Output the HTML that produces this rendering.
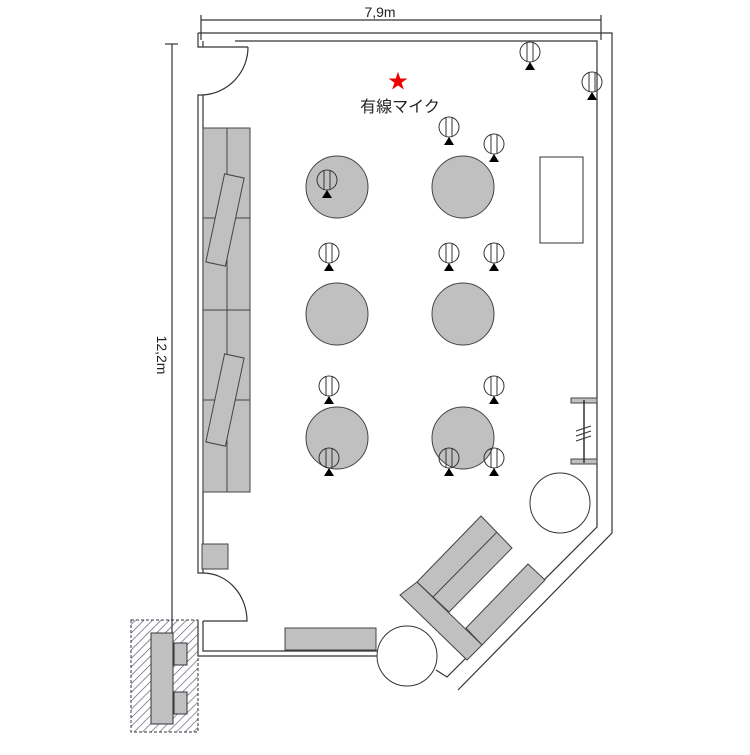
<!DOCTYPE html>
<html><head><style>body{margin:0;background:#fff}</style></head><body>
<svg width="750" height="750" viewBox="0 0 750 750" xmlns="http://www.w3.org/2000/svg" font-family="Liberation Sans, Noto Sans CJK JP, sans-serif">
<defs>
<pattern id="h" width="6" height="6" patternUnits="userSpaceOnUse" patternTransform="rotate(45)"><line x1="0" y1="0" x2="0" y2="6" stroke="#557" stroke-width="1.3"/></pattern>
<g id="m"><circle cx="0" cy="0" r="10" fill="none" stroke="#333"/><line x1="-3" y1="-10" x2="-3" y2="10" stroke="#333"/><line x1="3" y1="-10" x2="3" y2="10" stroke="#333"/><path d="M0 10 L-5 18 L5 18Z" fill="#000"/></g>
</defs>
<g stroke="#333" fill="none" stroke-width="1.2">
<line x1="201" y1="20" x2="601" y2="20"/><line x1="201" y1="15" x2="201" y2="40"/><line x1="601" y1="15" x2="601" y2="40"/>
<line x1="172" y1="44" x2="172" y2="650"/><line x1="165" y1="44" x2="178" y2="44"/>
<path d="M198 33 L612 33 L612 533 L458 690"/>
<path d="M235 41 L597 41 L597 527 L447 677 L436 670"/>
<path d="M198 33 L198 47 L248 47"/>
<path d="M203 41 L203 47"/>
<path d="M203 95 A48 48 0 0 0 248 47"/>
<path d="M198 95 L198 573 L203 573 L203 95 Z"/>
<path d="M203 573 A44 48 0 0 1 247 621 L203 621"/>
<path d="M203 621 L203 651 L377 651"/>
<path d="M198 621 L198 656 L377 656"/>
</g>
<text x="380" y="17" font-size="14" text-anchor="middle" fill="#222">7,9m</text>
<text transform="translate(157,355) rotate(90)" font-size="14" text-anchor="middle" fill="#222">12,2m</text>
<rect x="131" y="620" width="67" height="112" fill="url(#h)" stroke="#333" stroke-dasharray="3,2"/>
<rect x="151" y="633" width="22" height="91" fill="#c0c0c0" stroke="#333"/>
<rect x="174" y="643" width="13" height="22" fill="#c0c0c0" stroke="#333"/>
<rect x="174" y="692" width="13" height="22" fill="#c0c0c0" stroke="#333"/>
<g fill="#c0c0c0" stroke="#444">
<rect x="202" y="544" width="26" height="25"/>
<rect x="285" y="628" width="91" height="22"/>
<rect x="203" y="128" width="47" height="364"/>
<line x1="227" y1="128" x2="227" y2="492"/>
<line x1="203" y1="218" x2="250" y2="218"/><line x1="203" y1="310" x2="250" y2="310"/><line x1="203" y1="400" x2="250" y2="400"/>
<rect x="215" y="175" width="20" height="90" transform="rotate(12 225 220)"/>
<rect x="215" y="355" width="20" height="90" transform="rotate(12 225 400)"/>
<circle cx="337" cy="187" r="31"/><circle cx="463" cy="187" r="31"/>
<circle cx="337" cy="314" r="31"/><circle cx="463" cy="314" r="31"/>
<circle cx="337" cy="438" r="31"/><circle cx="463" cy="438" r="31"/>
<path d="M400 595 L417 582 L482 645 L467 660Z"/>
<path d="M417 582 L481 516 L512 548 L449 612Z"/>
<line x1="433" y1="597" x2="497" y2="532"/>
<path d="M466 628 L528 564 L545 580 L482 645Z"/>
<rect x="571" y="398" width="26" height="5"/><rect x="571" y="459" width="26" height="5"/>
</g>
<g stroke="#333" fill="none">
<rect x="540" y="157" width="43" height="86"/>
<line x1="584" y1="400" x2="584" y2="463" stroke-width="1.5"/>
<path d="M576 431 l15 -5 M576 436 l15 -5 M576 441 l15 -5"/>
<circle cx="560" cy="503" r="30"/>
<circle cx="407" cy="656" r="30"/>
</g>
<g fill="#fff">
<use href="#m" x="530" y="52"/><use href="#m" x="592" y="82"/>
<use href="#m" x="449" y="127"/><use href="#m" x="494" y="144"/>
<use href="#m" x="327" y="180"/>
<use href="#m" x="329" y="253"/><use href="#m" x="449" y="253"/><use href="#m" x="494" y="253"/>
<use href="#m" x="329" y="386"/><use href="#m" x="494" y="386"/>
<use href="#m" x="329" y="458"/><use href="#m" x="449" y="458"/><use href="#m" x="494" y="458"/>
</g>
<text x="398" y="88" font-size="20" text-anchor="middle" fill="#e00">★</text>
<text x="400" y="112" font-size="16" text-anchor="middle" fill="#222">有線マイク</text>
</svg>
</body></html>
